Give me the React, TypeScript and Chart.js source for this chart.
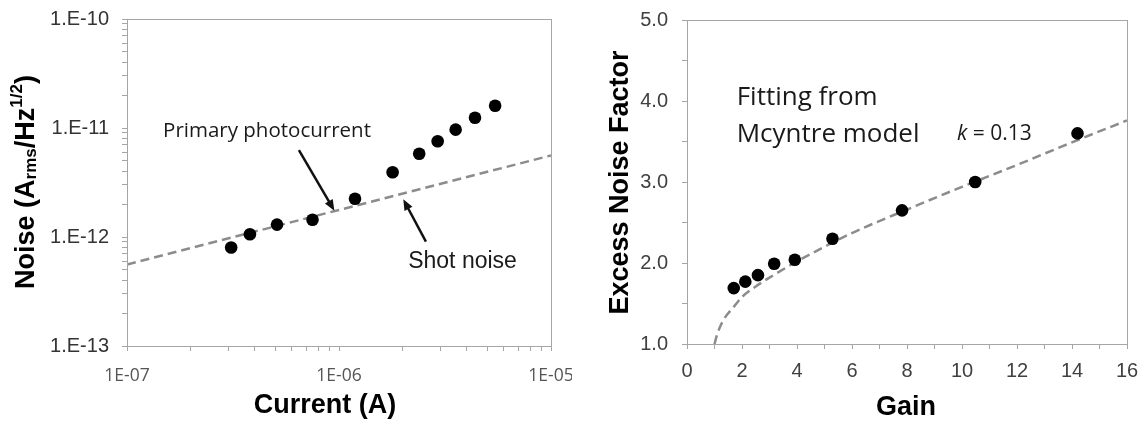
import React, { useEffect, useRef } from "react";
import { Chart, registerables } from "chart.js";

Chart.register(...registerables);

// ---------- Left chart data (Noise vs Current) ----------
const currentA = [3.1e-7, 3.8e-7, 5.1e-7, 7.5e-7, 1.19e-6, 1.79e-6, 2.39e-6, 2.92e-6, 3.55e-6, 4.38e-6, 5.45e-6];
const noiseA = [8.0e-13, 1.06e-12, 1.3e-12, 1.44e-12, 2.24e-12, 3.93e-12, 5.8e-12, 7.55e-12, 9.66e-12, 1.24e-11, 1.6e-11];
const shotCurrent = [1e-7, 1e-5];
const shotNoise = [5.6e-13, 5.6e-12];

const currentDecades = [-7, -6, -5];
const currentTickLabels = ["1E-07", "1E-06", "1E-05"];
const noiseDecades = [-13, -12, -11, -10];
const noiseTickLabels = ["1.E-13", "1.E-12", "1.E-11", "1.E-10"];
const minorSteps = [1, 2, 3, 4, 5, 6, 7, 8, 9];

// annotation anchors (data coords)
const primaryText = { x: 1.48e-7, y: 8.32e-12, text: "Primary photocurrent" };
const primaryArrow = { x1: 6.47e-7, y1: 6.28e-12, x2: 9.51e-7, y2: 1.74e-12 };
const shotText = { x: 2.12e-6, y: 5.16e-13, text: "Shot noise" };
const shotArrow = { x1: 2.57e-6, y1: 9.06e-13, x2: 2.01e-6, y2: 2.22e-12 };

// ---------- Right chart data (Excess noise vs Gain) ----------
const gain = [1.7, 2.12, 2.58, 3.17, 3.92, 5.29, 7.82, 10.48, 14.2];
const excessNoise = [1.69, 1.77, 1.85, 1.99, 2.04, 2.3, 2.65, 3.0, 3.6];
const fitGain = [1.0, 1.08, 1.2, 1.35, 1.5, 1.75, 2.0, 2.5, 3.0, 4.0, 5.0, 6.0, 8.0, 10.0, 12.0, 14.0, 16.0];
const fitNoise = [1.0, 1.1, 1.21, 1.31, 1.38, 1.48, 1.58, 1.71, 1.82, 2.02, 2.2, 2.37, 2.66, 2.94, 3.21, 3.49, 3.76];
const gainTickLabels = ["0", "2", "4", "6", "8", "10", "12", "14", "16"];
const factorTickLabels = ["1.0", "2.0", "3.0", "4.0", "5.0"];

const AXIS_GRAY = "#a6a6a6";
const DASH_GRAY = "#8c8c8c";

function logTicks(decades: number[]) {
  const out: { value: number }[] = [];
  for (let i = 0; i < decades.length; i++) {
    const base = Math.pow(10, decades[i]);
    if (i === decades.length - 1) {
      out.push({ value: base });
    } else {
      for (const m of minorSteps) out.push({ value: m * base });
    }
  }
  return out;
}

function logLabel(v: number, decades: number[], labels: string[]) {
  const l = Math.log10(v);
  const e = Math.round(l);
  if (Math.abs(l - e) > 1e-6) return "";
  const idx = decades.indexOf(e);
  return idx >= 0 ? labels[idx] : "";
}

function drawArrow(ctx: CanvasRenderingContext2D, x1: number, y1: number, x2: number, y2: number) {
  const ang = Math.atan2(y2 - y1, x2 - x1);
  const headLen = 11;
  const headW = 4.5;
  ctx.save();
  ctx.strokeStyle = "#111";
  ctx.fillStyle = "#111";
  ctx.lineWidth = 2.5;
  ctx.beginPath();
  ctx.moveTo(x1, y1);
  ctx.lineTo(x2 - Math.cos(ang) * headLen * 0.8, y2 - Math.sin(ang) * headLen * 0.8);
  ctx.stroke();
  ctx.beginPath();
  ctx.moveTo(x2, y2);
  ctx.lineTo(x2 - Math.cos(ang) * headLen - Math.sin(ang) * headW, y2 - Math.sin(ang) * headLen + Math.cos(ang) * headW);
  ctx.lineTo(x2 - Math.cos(ang) * headLen + Math.sin(ang) * headW, y2 - Math.sin(ang) * headLen - Math.cos(ang) * headW);
  ctx.closePath();
  ctx.fill();
  ctx.restore();
}

function drawBox(chart: any) {
  const { ctx, chartArea } = chart;
  ctx.save();
  ctx.strokeStyle = AXIS_GRAY;
  ctx.lineWidth = 1;
  const l = Math.round(chartArea.left) + 0.5;
  const t = Math.round(chartArea.top) + 0.5;
  const r = Math.round(chartArea.right) + 0.5;
  const b = Math.round(chartArea.bottom) + 0.5;
  ctx.strokeRect(l, t, r - l, b - t);
  ctx.restore();
}

const leftPlugin = {
  id: "leftDecor",
  afterDraw(chart: any) {
    const { ctx } = chart;
    const xs = chart.scales.x;
    const ys = chart.scales.y;
    drawBox(chart);
    // annotations
    ctx.save();
    ctx.fillStyle = "#1a1a1a";
    ctx.textBaseline = "alphabetic";
    ctx.textAlign = "left";
    ctx.font = "20.5px 'Open Sans'";
    ctx.fillText(primaryText.text, xs.getPixelForValue(primaryText.x), ys.getPixelForValue(primaryText.y));
    ctx.font = "23px 'Liberation Sans'";
    ctx.fillText(shotText.text, xs.getPixelForValue(shotText.x), ys.getPixelForValue(shotText.y));
    ctx.restore();
    drawArrow(ctx, xs.getPixelForValue(primaryArrow.x1), ys.getPixelForValue(primaryArrow.y1), xs.getPixelForValue(primaryArrow.x2), ys.getPixelForValue(primaryArrow.y2));
    drawArrow(ctx, xs.getPixelForValue(shotArrow.x1), ys.getPixelForValue(shotArrow.y1), xs.getPixelForValue(shotArrow.x2), ys.getPixelForValue(shotArrow.y2));

    // x title
    ctx.save();
    ctx.fillStyle = "#000";
    ctx.font = "bold 27px 'Liberation Sans'";
    ctx.textAlign = "center";
    ctx.textBaseline = "alphabetic";
    ctx.fillText("Current (A)", 325, 413);
    ctx.restore();

    // y title with sub/superscripts
    ctx.save();
    ctx.translate(34, 182);
    ctx.rotate(-Math.PI / 2);
    ctx.fillStyle = "#000";
    ctx.textBaseline = "alphabetic";
    ctx.textAlign = "left";
    const big = "bold 27px 'Liberation Sans'";
    const small = "bold 17px 'Liberation Sans'";
    const parts: [string, string, number][] = [
      ["Noise (A", big, 0],
      ["rms", small, 2],
      ["/Hz", big, 0],
      ["1/2", small, -12],
      [")", big, 0],
    ];
    let total = 0;
    for (const [t, f] of parts) {
      ctx.font = f;
      total += ctx.measureText(t).width;
    }
    let x = -total / 2;
    for (const [t, f, dy] of parts) {
      ctx.font = f;
      ctx.fillText(t, x, dy);
      x += ctx.measureText(t).width;
    }
    ctx.restore();
  },
};

const rightPlugin = {
  id: "rightDecor",
  afterDraw(chart: any) {
    const { ctx } = chart;
    drawBox(chart);
    ctx.save();
    ctx.fillStyle = "#1a1a1a";
    ctx.textAlign = "left";
    ctx.textBaseline = "alphabetic";
    ctx.font = "26px 'Open Sans'";
    ctx.fillText("Fitting from", 736.7 - 572, 105);
    ctx.fillText("Mcyntre model", 736.7 - 572, 141.7);
    // k = 0.13
    ctx.font = "italic 21px 'Open Sans'";
    const kx = 957 - 572;
    ctx.fillText("k", kx, 140);
    const kw = ctx.measureText("k").width;
    ctx.font = "21px 'Open Sans'";
    ctx.fillText(" = 0.13", kx + kw, 140);
    ctx.restore();

    ctx.save();
    ctx.fillStyle = "#000";
    ctx.font = "bold 27px 'Liberation Sans'";
    ctx.textAlign = "center";
    ctx.textBaseline = "alphabetic";
    ctx.fillText("Gain", 906 - 572, 415);
    ctx.translate(628 - 572, 182.5);
    ctx.rotate(-Math.PI / 2);
    ctx.font = "bold 27px 'Liberation Sans'";
    ctx.fillText("Excess Noise Factor", 0, 0);
    ctx.restore();
  },
};

function LeftChart() {
  const ref = useRef<HTMLCanvasElement>(null);
  useEffect(() => {
    if (!ref.current) return;
    const chart = new Chart(ref.current, {
      type: "scatter",
      data: {
        datasets: [
          {
            label: "Noise",
            data: currentA.map((x, i) => ({ x, y: noiseA[i] })),
            pointRadius: 6.3,
            pointBackgroundColor: "#000",
            pointBorderWidth: 0,
            showLine: false,
          },
          {
            label: "Shot noise",
            data: shotCurrent.map((x, i) => ({ x, y: shotNoise[i] })),
            showLine: true,
            pointRadius: 0,
            borderColor: DASH_GRAY,
            borderWidth: 2.5,
            borderDash: [9, 5],
          },
        ],
      },
      options: {
        animation: false,
        responsive: false,
        events: [],
        layout: { padding: { top: 19, right: 21, left: 0, bottom: 0 } },
        plugins: { legend: { display: false }, tooltip: { enabled: false } },
        scales: {
          x: {
            type: "logarithmic",
            min: 1e-7,
            max: 1e-5,
            afterBuildTicks: (s: any) => {
              s.ticks = logTicks(currentDecades);
            },
            afterFit: (s: any) => {
              s.height = 78;
              s.paddingLeft = 0;
              s.paddingRight = 0;
            },
            ticks: {
              autoSkip: false,
              maxRotation: 0,
              minRotation: 0,
              padding: 15,
              color: "#555",
              font: { family: "'Open Sans'", size: 17.5 },
              callback: (v: any) => logLabel(Number(v), currentDecades, currentTickLabels),
            },
            grid: { drawOnChartArea: false, drawTicks: true, tickLength: 5, color: AXIS_GRAY },
            border: { display: true, color: AXIS_GRAY },
          },
          y: {
            type: "logarithmic",
            min: 1e-13,
            max: 1e-10,
            afterBuildTicks: (s: any) => {
              s.ticks = logTicks(noiseDecades);
            },
            afterFit: (s: any) => {
              s.width = 127;
              s.paddingTop = 0;
              s.paddingBottom = 0;
            },
            ticks: {
              autoSkip: false,
              padding: 13,
              color: "#333",
              font: { family: "'Liberation Sans'", size: 20 },
              callback: (v: any) => logLabel(Number(v), noiseDecades, noiseTickLabels),
            },
            grid: { drawOnChartArea: false, drawTicks: true, tickLength: 5, color: AXIS_GRAY },
            border: { display: true, color: AXIS_GRAY },
          },
        },
      } as any,
      plugins: [leftPlugin],
    });
    return () => chart.destroy();
  }, []);
  return <canvas ref={ref} width={572} height={424} style={{ position: "absolute", left: 0, top: 0 }} />;
}

function RightChart() {
  const ref = useRef<HTMLCanvasElement>(null);
  useEffect(() => {
    if (!ref.current) return;
    const chart = new Chart(ref.current, {
      type: "scatter",
      data: {
        datasets: [
          {
            label: "Measured",
            data: gain.map((x, i) => ({ x, y: excessNoise[i] })),
            pointRadius: 6.3,
            pointBackgroundColor: "#000",
            pointBorderWidth: 0,
            showLine: false,
          },
          {
            label: "McIntyre fit",
            data: fitGain.map((x, i) => ({ x, y: fitNoise[i] })),
            showLine: true,
            pointRadius: 0,
            borderColor: DASH_GRAY,
            borderWidth: 2.5,
            borderDash: [9, 5],
            cubicInterpolationMode: "monotone",
          },
        ],
      },
      options: {
        animation: false,
        responsive: false,
        events: [],
        layout: { padding: { top: 20, right: 18, left: 0, bottom: 0 } },
        plugins: { legend: { display: false }, tooltip: { enabled: false } },
        scales: {
          x: {
            type: "linear",
            min: 0,
            max: 16,
            afterFit: (s: any) => {
              s.height = 80;
              s.paddingLeft = 0;
              s.paddingRight = 0;
            },
            ticks: {
              stepSize: 1,
              autoSkip: false,
              maxRotation: 0,
              minRotation: 0,
              padding: 10,
              color: "#404040",
              font: { family: "'Liberation Sans'", size: 20 },
              callback: (v: any) => {
                const s = String(Math.round(Number(v)));
                return gainTickLabels.includes(s) && Math.abs(Number(v) - Math.round(Number(v))) < 1e-6 ? s : "";
              },
            },
            grid: { drawOnChartArea: false, drawTicks: true, tickLength: 5, color: AXIS_GRAY },
            border: { display: true, color: AXIS_GRAY },
          },
          y: {
            type: "linear",
            min: 1,
            max: 5,
            afterFit: (s: any) => {
              s.width = 115;
              s.paddingTop = 0;
              s.paddingBottom = 0;
            },
            ticks: {
              stepSize: 0.5,
              autoSkip: false,
              padding: 14,
              color: "#404040",
              font: { family: "'Liberation Sans'", size: 20 },
              callback: (v: any) => {
                const s = Number(v).toFixed(1);
                return factorTickLabels.includes(s) ? s : "";
              },
            },
            grid: { drawOnChartArea: false, drawTicks: true, tickLength: 5, color: AXIS_GRAY },
            border: { display: true, color: AXIS_GRAY },
          },
        },
      } as any,
      plugins: [rightPlugin],
    });
    return () => chart.destroy();
  }, []);
  return <canvas ref={ref} width={573} height={424} style={{ position: "absolute", left: 572, top: 0 }} />;
}

export default function App() {
  return (
    <div style={{ position: "absolute", left: 0, top: 0, width: 1145, height: 424, background: "#fff" }}>
      <LeftChart />
      <RightChart />
    </div>
  );
}
